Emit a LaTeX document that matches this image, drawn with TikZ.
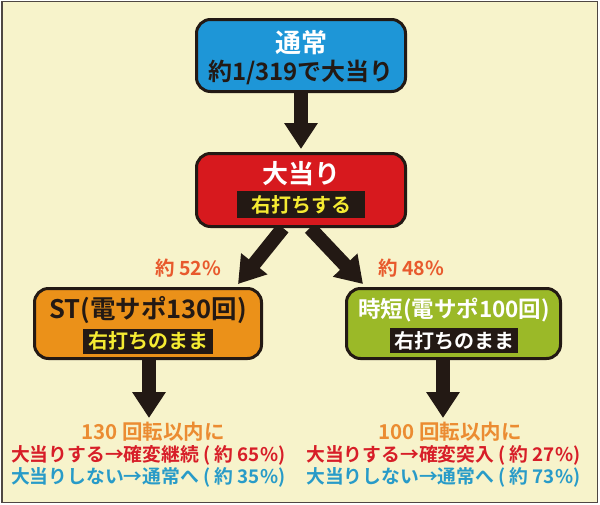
\documentclass[tikz,border=0pt]{standalone}
\usepackage{fontspec}
\setmainfont{Noto Sans CJK JP}[BoldFont={Noto Sans CJK JP Bold}]
\usetikzlibrary{arrows.meta,calc}
\definecolor{bgc}{RGB}{247,243,203}
\definecolor{darkc}{RGB}{35,25,20}
\definecolor{bluebox}{RGB}{30,150,215}
\definecolor{redbox}{RGB}{215,25,30}
\definecolor{orangebox}{RGB}{235,145,25}
\definecolor{greenbox}{RGB}{155,185,40}
\definecolor{yellowtxt}{RGB}{245,235,50}
\definecolor{pctc}{RGB}{232,90,45}
\definecolor{spinc}{RGB}{235,140,50}
\definecolor{redtxt}{RGB}{215,30,40}
\definecolor{bluetxt}{RGB}{40,155,200}
\pgfdeclarelayer{back}
\pgfdeclarelayer{arrowlayer}
\pgfsetlayers{back,arrowlayer,main}
\tikzset{
  box/.style={draw=darkc, line width=3pt, rounded corners=14pt, inner sep=0pt},
  title/.style={font=\bfseries\fontsize{#1}{#1}\selectfont, inner sep=0pt},
  tag/.style={fill=darkc, inner sep=0pt, font=\bfseries\fontsize{20}{20}\selectfont},
  bigarrow/.style={draw=darkc, line width=14pt, -{Triangle[width=32pt,length=26pt]}},
  note/.style={font=\bfseries\fontsize{18.8}{18.8}\selectfont, inner sep=0pt},
}
\begin{document}
\begin{tikzpicture}[x=1pt,y=-1pt]
\useasboundingbox (0,0) rectangle (600,504);
\begin{pgfonlayer}{back}
\draw[fill=bgc, draw=darkc!80, line width=1.5pt] (2,1.5) rectangle (597.5,502.5);
\end{pgfonlayer}

% boxes
\node[box, fill=bluebox, minimum width=209pt, minimum height=72pt] (top) at (301,55.5) {};
\node[title=26, text=white] (topT) at (301,43) {通常};
\node[title=24, text=darkc] (topS) at (301,72) {約1/319で大当り};

\node[box, fill=redbox, minimum width=209pt, minimum height=73pt] (hit) at (301,190) {};
\node[title=26, text=white] (hitT) at (301,174) {大当り};
\node[tag, text=yellowtxt, minimum width=128pt, minimum height=27pt] (hitL) at (301,204.5) {右打ちする};

\node[box, fill=orangebox, minimum width=227pt, minimum height=70pt] (st) at (148,323.5) {};
\node[title=25.5, text=darkc] (stT) at (148,310) {ST(電サポ130回)};
\node[tag, text=yellowtxt, minimum width=130pt, minimum height=25pt] (stL) at (148,341) {右打ちのまま};

\node[box, fill=greenbox, minimum width=214pt, minimum height=70pt] (jt) at (453.5,323.5) {};
\node[title=22.5, text=white] (jtT) at (454,310) {時短(電サポ100回)};
\node[tag, text=white, minimum width=128pt, minimum height=25pt] (jtL) at (454,340.5) {右打ちのまま};

% percentages
\node[title=19.5, text=pctc] (p52) at (188,268) {約 52\%};
\node[title=19.5, text=pctc] (p48) at (411,268) {約 48\%};

% bottom notes
\node[title=20.5, text=spinc] (stN) at (153,432) {130 回転以内に};
\node[note, text=redtxt, anchor=west] (stA) at (11,455) {大当りする→確変継続 ( 約 65\%)};
\node[note, text=bluetxt, anchor=west] (stB) at (11,477) {大当りしない→通常へ ( 約 35\%)};
\node[title=20.5, text=spinc] (jtN) at (450,432) {100 回転以内に};
\node[note, text=redtxt, anchor=west] (jtA) at (306,455) {大当りする→確変突入 ( 約 27\%)};
\node[note, text=bluetxt, anchor=west] (jtB) at (306,477) {大当りしない→通常へ ( 約 73\%)};

% arrow end points
\coordinate (stTip) at (238,284);
\coordinate (jtTip) at (363,284);
\coordinate (stEnd) at (149,418);
\coordinate (jtEnd) at (443,418);

\begin{pgfonlayer}{arrowlayer}
\draw[bigarrow, shorten >=3pt] (top.south) -- (hit.north);
\draw[bigarrow] ($(hit.south)+(-18,0)$) -- (stTip);
\draw[bigarrow] ($(hit.south)+(9,0)$) -- (jtTip);
\draw[bigarrow] (st.south -| stEnd) -- (stEnd);
\draw[bigarrow] (jt.south -| jtEnd) -- (jtEnd);
\end{pgfonlayer}
\end{tikzpicture}
\end{document}
